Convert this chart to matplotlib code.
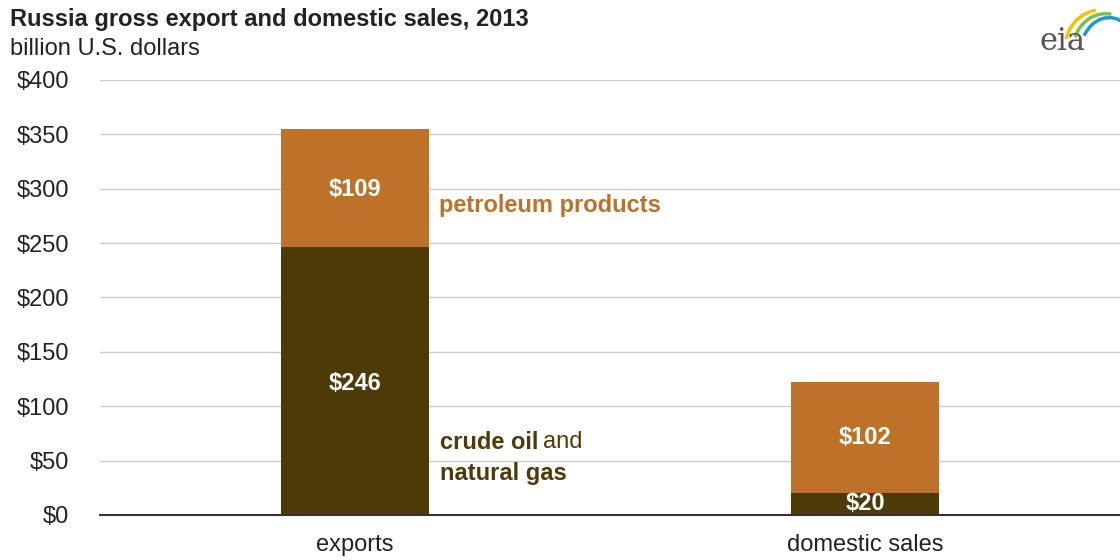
import matplotlib
matplotlib.use("Agg")
import matplotlib.pyplot as plt
from matplotlib.patches import Arc

plt.rcParams['font.family'] = ['Liberation Sans', 'DejaVu Sans']

categories = ["exports", "domestic sales"]
crude_gas = [246, 20]
petroleum = [109, 102]
crude_labels = ["$246", "$20"]
petro_labels = ["$109", "$102"]
yticks = [0, 50, 100, 150, 200, 250, 300, 350, 400]
ytick_labels = ["$0", "$50", "$100", "$150", "$200", "$250", "$300", "$350", "$400"]

dark = "#4d3a06"
orange = "#bd7129"

fig = plt.figure(figsize=(11.2, 5.6), dpi=100)
ax = fig.add_axes([0.0893, 0.0804, 0.9107, 0.7768])

x = list(range(len(categories)))
w = 0.29
ax.bar(x, crude_gas, width=w, color=dark, zorder=3)
ax.bar(x, petroleum, width=w, bottom=crude_gas, color=orange, zorder=3)

ax.set_xlim(-0.5, 1.5)
ax.set_ylim(0, 400)
ax.set_yticks(yticks)
ax.set_yticklabels(ytick_labels, fontsize=17, color="#222222")
ax.set_xticks(x)
ax.set_xticklabels(categories, fontsize=17, color="#222222")
ax.tick_params(axis='both', length=0)
ax.tick_params(axis='y', pad=22)
ax.tick_params(axis='x', pad=14)
ax.yaxis.grid(True, color="#cccccc", linewidth=1.0, zorder=0)
for s in ["top", "right", "left"]:
    ax.spines[s].set_visible(False)
ax.spines["bottom"].set_color("#333333")
ax.spines["bottom"].set_linewidth(1.5)
ax.spines["bottom"].set_zorder(4)

# value labels
crude_y = [121, 11]
petro_y = [299, 71]
for i in x:
    ax.text(i, crude_y[i], crude_labels[i], ha="center", va="center",
            color="white", fontsize=17, fontweight="bold", zorder=5)
    ax.text(i, petro_y[i], petro_labels[i], ha="center", va="center",
            color="white", fontsize=17, fontweight="bold", zorder=5)

# series annotations
ax.text(0.165, 285, "petroleum products", color=orange, fontsize=17, fontweight="bold",
        ha="left", va="center")
t1 = ax.text(0.167, 67, "crude oil", color=dark, fontsize=17, fontweight="bold", ha="left", va="center")
fig.canvas.draw()
bb = t1.get_window_extent()
inv = ax.transData.inverted()
x_end = inv.transform((bb.x1, bb.y0))[0]
ax.text(x_end + 0.008, 67, "and", color=dark, fontsize=17, ha="left", va="center")
ax.text(0.167, 38.5, "natural gas", color=dark, fontsize=17, fontweight="bold", ha="left", va="center")

# title
fig.text(0.009, 0.965, "Russia gross export and domestic sales, 2013", fontsize=17,
         fontweight="bold", color="#222222", ha="left", va="center")
fig.text(0.009, 0.912, "billion U.S. dollars", fontsize=17, color="#222222", ha="left", va="center")

# eia logo approximation
fig.text(0.928, 0.925, "eia", fontsize=22, family="DejaVu Serif", color="#555555",
         ha="left", va="center")
lax = fig.add_axes([0.935, 0.93, 0.065, 0.07])
lax.set_xlim(0, 1); lax.set_ylim(0, 1); lax.axis("off")
lax.add_patch(Arc((0.75, -0.2), 1.0, 1.9, theta1=95, theta2=165, color="#f2c500", lw=2.5))
lax.add_patch(Arc((0.80, -0.3), 0.9, 1.9, theta1=85, theta2=140, color="#7cc242", lw=2.5))
lax.add_patch(Arc((0.85, -0.4), 0.8, 1.9, theta1=75, theta2=125, color="#1e9ad6", lw=2.5))

fig.savefig("out.png", dpi=100)
